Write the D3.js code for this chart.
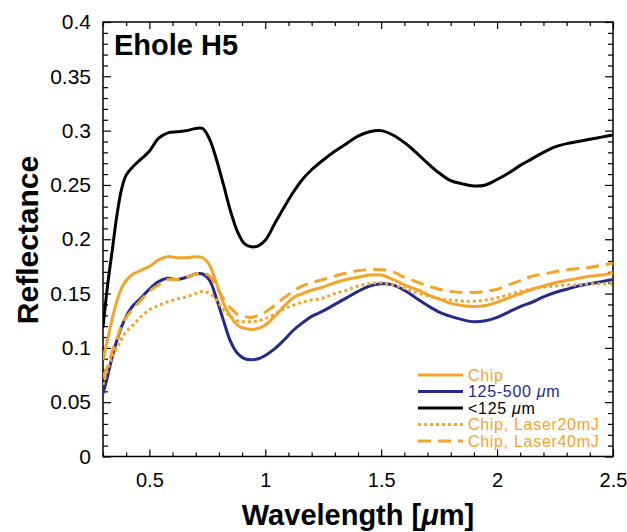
<!DOCTYPE html>
<html><head><meta charset="utf-8">
<script src="https://cdn.jsdelivr.net/npm/d3@7"></script>
<style>
body{margin:0;background:#fff;}
text{font-family:"Liberation Sans",Arial,Helvetica,sans-serif;}
</style></head><body>
<svg id="chart" width="627" height="532"></svg>
<script>
const wavelength = [0.30,0.32,0.34,0.36,0.38,0.40,0.43,0.46,0.50,0.54,0.58,0.62,0.66,0.70,0.73,0.76,0.79,0.82,0.85,0.88,0.91,0.94,0.97,1.00,1.04,1.08,1.12,1.16,1.20,1.25,1.30,1.35,1.40,1.45,1.50,1.55,1.60,1.65,1.70,1.75,1.80,1.85,1.90,1.95,2.00,2.05,2.10,2.15,2.20,2.25,2.30,2.35,2.40,2.45,2.50];

const chip = [0.089,0.108,0.127,0.143,0.155,0.162,0.168,0.171,0.175,0.181,0.184,0.183,0.183,0.184,0.183,0.176,0.159,0.141,0.129,0.121,0.118,0.117,0.118,0.121,0.129,0.138,0.146,0.150,0.153,0.156,0.160,0.163,0.165,0.167,0.167,0.163,0.158,0.154,0.149,0.145,0.141,0.139,0.138,0.139,0.142,0.146,0.150,0.154,0.157,0.160,0.162,0.164,0.166,0.167,0.169];

const size125to500 = [0.058,0.074,0.092,0.107,0.1195,0.129,0.139,0.145,0.154,0.161,0.164,0.163,0.165,0.168,0.168,0.162,0.145,0.125,0.106,0.095,0.090,0.089,0.090,0.093,0.099,0.107,0.116,0.123,0.129,0.134,0.140,0.146,0.152,0.157,0.159,0.158,0.153,0.146,0.139,0.133,0.129,0.126,0.124,0.125,0.128,0.133,0.138,0.142,0.147,0.151,0.154,0.157,0.159,0.161,0.163];

const sizeBelow125 = [0.119,0.158,0.190,0.222,0.246,0.259,0.267,0.273,0.281,0.293,0.298,0.299,0.300,0.302,0.302,0.292,0.273,0.250,0.226,0.207,0.196,0.193,0.194,0.199,0.214,0.229,0.243,0.255,0.264,0.273,0.281,0.288,0.295,0.299,0.300,0.296,0.289,0.280,0.270,0.261,0.254,0.251,0.249,0.250,0.255,0.261,0.268,0.274,0.280,0.285,0.288,0.290,0.292,0.294,0.296];

const chipLaser20 = [0.066,0.080,0.092,0.100,0.108,0.115,0.121,0.128,0.135,0.139,0.1425,0.145,0.147,0.150,0.152,0.150,0.144,0.135,0.129,0.125,0.124,0.124,0.125,0.127,0.131,0.136,0.139,0.142,0.144,0.146,0.150,0.153,0.157,0.159,0.160,0.158,0.155,0.151,0.148,0.145,0.144,0.143,0.143,0.144,0.146,0.149,0.152,0.154,0.156,0.157,0.158,0.158,0.159,0.159,0.159];

const chipLaser40 = [0.073,0.083,0.097,0.108,0.121,0.128,0.136,0.143,0.152,0.158,0.163,0.163,0.165,0.168,0.169,0.166,0.156,0.145,0.137,0.131,0.129,0.128,0.130,0.133,0.139,0.146,0.152,0.157,0.160,0.163,0.166,0.169,0.171,0.172,0.172,0.170,0.165,0.161,0.157,0.154,0.152,0.151,0.151,0.152,0.154,0.158,0.162,0.166,0.168,0.170,0.172,0.173,0.174,0.176,0.178];

const xTickLabels = [0.5,1,1.5,2,2.5];
const yTickLabels = [0,0.05,0.1,0.15,0.2,0.25,0.3,0.35,0.4];

const ORANGE = "#f5a42a", BLUE = "#262a8a", BLACK = "#000";

const series = [
  {name:"Chip", values:chip, color:ORANGE, dash:null, width:3},
  {name:"125-500", values:size125to500, color:BLUE, dash:null, width:3},
  {name:"<125", values:sizeBelow125, color:BLACK, dash:null, width:3},
  {name:"Chip, Laser20mJ", values:chipLaser20, color:ORANGE, dash:"3,3", width:3},
  {name:"Chip, Laser40mJ", values:chipLaser40, color:ORANGE, dash:"13,7", width:3}
];

const svg = d3.select("#chart");
const L = 103, R = 613, T = 22, B = 456.5;
const x = d3.scaleLinear().domain([0.3,2.5]).range([L,R]);
const y = d3.scaleLinear().domain([0,0.4]).range([B,T]);

const xMinor = d3.range(3,26).map(d=>d/10).filter(v=>!xTickLabels.some(t=>Math.abs(t-v)<1e-6));
const yMinor = d3.range(0,41).map(d=>d/100).filter(v=>!yTickLabels.some(t=>Math.abs(t-v)<1e-6));

function styleAxis(g){ g.select(".domain").remove(); g.selectAll("line").attr("stroke","#000").attr("stroke-width",1.2); }

svg.append("g").attr("transform",`translate(0,${B})`)
  .call(d3.axisBottom(x).tickValues(xTickLabels).tickSize(-7).tickPadding(16).tickFormat(d3.format("")))
  .call(styleAxis).call(g=>g.selectAll("text").attr("font-size",20).attr("fill","#000"));
svg.append("g").attr("transform",`translate(0,${B})`)
  .call(d3.axisBottom(x).tickValues(xMinor).tickSize(-4).tickFormat(""))
  .call(styleAxis);
svg.append("g").attr("transform",`translate(0,${T})`)
  .call(d3.axisTop(x).tickValues(xTickLabels).tickSize(-7).tickFormat(""))
  .call(styleAxis);
svg.append("g").attr("transform",`translate(0,${T})`)
  .call(d3.axisTop(x).tickValues(xMinor).tickSize(-4).tickFormat(""))
  .call(styleAxis);
svg.append("g").attr("transform",`translate(${L},0)`)
  .call(d3.axisLeft(y).tickValues(yTickLabels).tickSize(-8).tickPadding(12).tickFormat(d3.format("")))
  .call(styleAxis).call(g=>g.selectAll("text").attr("font-size",21).attr("fill","#000"));
svg.append("g").attr("transform",`translate(${L},0)`)
  .call(d3.axisLeft(y).tickValues(yMinor).tickSize(-5).tickFormat(""))
  .call(styleAxis);
svg.append("g").attr("transform",`translate(${R},0)`)
  .call(d3.axisRight(y).tickValues(yTickLabels).tickSize(-8).tickFormat(""))
  .call(styleAxis);
svg.append("g").attr("transform",`translate(${R},0)`)
  .call(d3.axisRight(y).tickValues(yMinor).tickSize(-5).tickFormat(""))
  .call(styleAxis);

svg.append("rect").attr("x",L).attr("y",T).attr("width",R-L).attr("height",B-T)
  .attr("fill","none").attr("stroke","#000").attr("stroke-width",1.5);

svg.append("clipPath").attr("id","clip").append("rect").attr("x",L).attr("y",T).attr("width",R-L).attr("height",B-T);

const line = d3.line().x((d,i)=>x(wavelength[i])).y(d=>y(d)).curve(d3.curveCatmullRom.alpha(0.5));
[2,0,1,3,4].forEach(k=>{
  const s = series[k];
  svg.append("path").attr("clip-path","url(#clip)")
    .attr("d",line(s.values)).attr("fill","none")
    .attr("stroke",s.color).attr("stroke-width",s.width)
    .attr("stroke-dasharray",s.dash).attr("stroke-linejoin","round");
});

svg.append("text").attr("x",114).attr("y",55).attr("font-size",29).attr("font-weight","bold").text("Ehole H5");

const xt = svg.append("text").attr("x",358).attr("y",525).attr("text-anchor","middle").attr("font-size",29).attr("font-weight","bold");
xt.append("tspan").text("Wavelength [");
xt.append("tspan").attr("font-style","italic").text("\u03bc");
xt.append("tspan").text("m]");

svg.append("text").attr("transform","translate(38,240) rotate(-90)").attr("text-anchor","middle")
  .attr("font-size",30).attr("font-weight","bold").text("Reflectance");

const legendRows = [375,391.5,408,424.5,441];
const legendLabels = [["Chip",""],["125-500 ","\u03bcm"],["<125 ","\u03bcm"],["Chip, Laser20mJ",""],["Chip, Laser40mJ",""]];
series.forEach((s,i)=>{
  const yy = legendRows[i];
  svg.append("line").attr("x1",418).attr("x2",463).attr("y1",yy).attr("y2",yy)
    .attr("stroke",s.color).attr("stroke-width",s.width).attr("stroke-dasharray",s.dash);
  const t = svg.append("text").attr("x",468).attr("y",yy).attr("dy","0.36em").attr("font-size",16)
    .attr("letter-spacing","0.7px").attr("fill",s.color);
  t.append("tspan").text(legendLabels[i][0]);
  if(legendLabels[i][1]){
    t.append("tspan").attr("font-style","italic").text("\u03bc");
    t.append("tspan").text("m");
  }
});
</script>
</body></html>
